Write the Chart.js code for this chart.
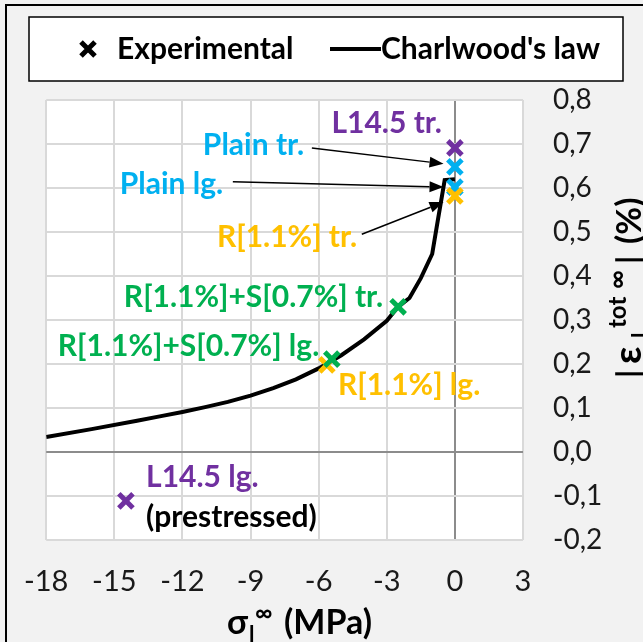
<!DOCTYPE html>
<html>
<head>
<meta charset="utf-8">
<script src="https://cdn.jsdelivr.net/npm/chart.js@4.4.1/dist/chart.umd.min.js"></script>
<style>
    html, body { margin: 0; padding: 0; background: #f2f2f2; }
    canvas { display: block; }
</style>
</head>
<body>
<canvas id="myChart" width="643" height="642"></canvas>
<script>
// Charlwood's law curve (stress in MPa, strain in %)
const lawStress = [-18, -16, -14, -13, -12, -11, -10, -9, -8, -7, -6, -5, -4, -3, -2.5, -2, -1.5, -1, -0.75, -0.45, 0];
const lawStrain = [0.034, 0.052, 0.071, 0.081, 0.091, 0.102, 0.114, 0.128, 0.145, 0.165, 0.19, 0.22, 0.256, 0.298, 0.33, 0.35, 0.395, 0.45, 0.527, 0.618, 0.62];

// Experimental points
const specimenNames = ['L14.5 tr.', 'Plain tr.', 'Plain lg.', 'R[1.1%] tr.', 'R[1.1%]+S[0.7%] tr.', 'R[1.1%]+S[0.7%] lg.', 'R[1.1%] lg.', 'L14.5 lg.'];
const specimenStress = [0, 0, 0, 0, -2.5, -5.42, -5.64, -14.49];
const specimenStrain = [0.691, 0.648, 0.602, 0.582, 0.33, 0.211, 0.198, -0.111];
const specimenGroup = ['L14.5', 'Plain', 'Plain', 'R', 'RS', 'RS', 'R', 'L14.5'];

// Axis ticks
const stressTicks = [-18, -15, -12, -9, -6, -3, 0, 3];
const strainTicks = [-0.2, -0.1, 0, 0.1, 0.2, 0.3, 0.4, 0.5, 0.6, 0.7, 0.8];

// Colours by group, first in list is drawn on top
const groupOrder = ['RS', 'L14.5', 'R', 'Plain'];
const groupColors = { 'L14.5': '#7030a0', 'Plain': '#00b0f0', 'R': '#ffc000', 'RS': '#00b050' };

// where the labels go (data coords) and how they are anchored
const labelPlaces = [
    { name: 'L14.5 tr.', x: -0.57, y: 0.748, align: 'right' },
    { name: 'Plain tr.', x: -11.1, y: 0.698, align: 'left', arrow: [-6.3, 0.691, -0.5, 0.655] },
    { name: 'Plain lg.', x: -14.76, y: 0.609, align: 'left', arrow: [-9.78, 0.614, -0.5, 0.602] },
    { name: 'R[1.1%] tr.', x: -10.48, y: 0.489, align: 'left', arrow: [-4.1, 0.495, -0.5, 0.568] },
    { name: 'R[1.1%]+S[0.7%] tr.', x: -14.58, y: 0.352, align: 'left' },
    { name: 'R[1.1%]+S[0.7%] lg.', x: -17.49, y: 0.241, align: 'left' },
    { name: 'R[1.1%] lg.', x: -5.15, y: 0.152, align: 'left' },
    { name: 'L14.5 lg.', x: -13.6, y: -0.057, align: 'left' }
];
const noteText = '(prestressed)';
const notePlace = { x: -13.6, y: -0.148 };

const FONT = 'Lato, "DejaVu Sans", sans-serif';

function colorOf(name) {
    return groupColors[specimenGroup[specimenNames.indexOf(name)]];
}

// build scatter datasets, one per colour group
const datasets = groupOrder.map(g => {
    const pts = [];
    specimenNames.forEach((n, i) => {
        if (specimenGroup[i] === g) pts.push({ x: specimenStress[i], y: specimenStrain[i] });
    });
    return {
        label: g,
        data: pts,
        pointStyle: 'crossRot',
        pointRadius: 10,
        pointBorderWidth: 5,
        borderColor: groupColors[g],
        backgroundColor: groupColors[g],
        showLine: false
    };
});

datasets.push({
    label: "Charlwood's law",
    data: lawStress.map((s, i) => ({ x: s, y: lawStrain[i] })),
    showLine: true,
    borderColor: '#000',
    borderWidth: 4,
    pointRadius: 0,
    tension: 0
});

function drawArrow(ctx, x1, y1, x2, y2) {
    const ang = Math.atan2(y2 - y1, x2 - x1);
    const len = 14, half = 5.5;
    const bx = x2 - len * Math.cos(ang), by = y2 - len * Math.sin(ang);
    ctx.beginPath();
    ctx.moveTo(x1, y1);
    ctx.lineTo(bx, by);
    ctx.lineWidth = 1.5;
    ctx.strokeStyle = '#000';
    ctx.stroke();
    ctx.beginPath();
    ctx.moveTo(x2, y2);
    ctx.lineTo(bx - half * Math.sin(ang), by + half * Math.cos(ang));
    ctx.lineTo(bx + half * Math.sin(ang), by - half * Math.cos(ang));
    ctx.closePath();
    ctx.fillStyle = '#000';
    ctx.fill();
}

// text pieces placed at their own offsets: {t, size, at, dy}
function drawPieces(ctx, pieces) {
    pieces.forEach(p => {
        ctx.font = 'bold ' + p.size + 'px ' + FONT;
        ctx.fillText(p.t, p.at, p.dy || 0);
    });
}

const decorPlugin = {
    id: 'decor',
    beforeDraw(chart) {
        const ctx = chart.ctx;
        const a = chart.chartArea;
        ctx.save();
        ctx.fillStyle = '#f2f2f2';
        ctx.fillRect(0, 0, chart.width, chart.height);
        ctx.fillStyle = '#ffffff';
        ctx.fillRect(a.left, a.top, a.right - a.left, a.bottom - a.top);
        // outer frame
        ctx.strokeStyle = '#000';
        ctx.lineWidth = 2;
        ctx.strokeRect(6, 5, 800, 800);
        ctx.restore();
    },
    afterDatasetsDraw(chart) {
        const ctx = chart.ctx;
        const xs = chart.scales.x, ys = chart.scales.y;
        ctx.save();
        ctx.textBaseline = 'middle';
        ctx.font = 'bold 30px ' + FONT;
        labelPlaces.forEach(l => {
            ctx.fillStyle = colorOf(l.name);
            ctx.textAlign = l.align;
            ctx.fillText(l.name, xs.getPixelForValue(l.x), ys.getPixelForValue(l.y));
            if (l.arrow) {
                drawArrow(ctx, xs.getPixelForValue(l.arrow[0]), ys.getPixelForValue(l.arrow[1]),
                    xs.getPixelForValue(l.arrow[2]), ys.getPixelForValue(l.arrow[3]));
            }
        });
        ctx.fillStyle = '#000';
        ctx.textAlign = 'left';
        ctx.fillText(noteText, xs.getPixelForValue(notePlace.x), ys.getPixelForValue(notePlace.y));
        ctx.restore();
    },
    afterDraw(chart) {
        const ctx = chart.ctx;
        ctx.save();
        // legend box
        ctx.fillStyle = '#fff';
        ctx.fillRect(29, 17, 594, 64);
        ctx.strokeStyle = '#000';
        ctx.lineWidth = 1.5;
        ctx.strokeRect(29, 17, 594, 64);
        // experimental marker
        ctx.lineWidth = 5;
        ctx.beginPath();
        ctx.moveTo(81, 42); ctx.lineTo(95, 56);
        ctx.moveTo(95, 42); ctx.lineTo(81, 56);
        ctx.stroke();
        // law line
        ctx.lineWidth = 4;
        ctx.beginPath();
        ctx.moveTo(330, 49); ctx.lineTo(381, 49);
        ctx.stroke();
        ctx.fillStyle = '#000';
        ctx.textBaseline = 'middle';
        ctx.font = 'bold 30px ' + FONT;
        ctx.fillText('Experimental', 117, 49);
        ctx.fillText("Charlwood's law", 381, 49);

        // x axis title
        ctx.textBaseline = 'alphabetic';
        ctx.save();
        ctx.translate(0, 634);
        drawPieces(ctx, [
            { t: 'σ', size: 34, at: 227 },
            { t: 'l', size: 22, at: 249, dy: 8 },
            { t: '∞', size: 24, at: 255, dy: -13 },
            { t: '(MPa)', size: 34, at: 284 }
        ]);
        ctx.restore();

        // y axis title, rotated
        ctx.translate(641, 378);
        ctx.rotate(-Math.PI / 2);
        drawPieces(ctx, [
            { t: '|', size: 32, at: 0 },
            { t: 'ε', size: 38, at: 14 },
            { t: 'l', size: 22, at: 40, dy: 7 },
            { t: 'tot', size: 24, at: 50, dy: -15 },
            { t: '∞', size: 26, at: 89, dy: -15 },
            { t: '|', size: 32, at: 114 },
            { t: '(%)', size: 34, at: 134 }
        ]);
        ctx.restore();
    }
};

function gridColor(c) {
    return c.tick && Math.abs(c.tick.value) < 1e-9 ? '#8c8c8c' : '#d9d9d9';
}

const ctx = document.getElementById('myChart').getContext('2d');
const myChart = new Chart(ctx, {
    type: 'scatter',
    data: { datasets: datasets },
    options: {
        responsive: false,
        animation: false,
        devicePixelRatio: 1,
        layout: { padding: { left: 46, top: 100, right: 0, bottom: 0 } },
        plugins: {
            legend: { display: false },
            tooltip: { enabled: false }
        },
        scales: {
            x: {
                type: 'linear',
                position: 'bottom',
                min: -18,
                max: 3,
                afterBuildTicks: s => { s.ticks = stressTicks.map(v => ({ value: v })); },
                afterFit: s => { s.height = 102; },
                grid: { color: gridColor, lineWidth: 2, drawTicks: false },
                border: { display: false },
                ticks: {
                    autoSkip: false,
                    maxRotation: 0,
                    padding: 24,
                    color: '#1a1a1a',
                    font: { family: FONT, size: 29 },
                    callback: v => String(v)
                }
            },
            y: {
                type: 'linear',
                position: 'right',
                min: -0.2,
                max: 0.8,
                afterBuildTicks: s => { s.ticks = strainTicks.map(v => ({ value: v })); },
                afterFit: s => { s.width = 120; },
                grid: { color: gridColor, lineWidth: 2, drawTicks: false },
                border: { display: false },
                ticks: {
                    padding: 30,
                    color: '#1a1a1a',
                    font: { family: FONT, size: 28 },
                    callback: v => (Math.abs(v) < 1e-9 ? 0 : v).toFixed(1).replace('.', ',')
                }
            }
        }
    },
    plugins: [decorPlugin]
});
</script>
</body>
</html>
